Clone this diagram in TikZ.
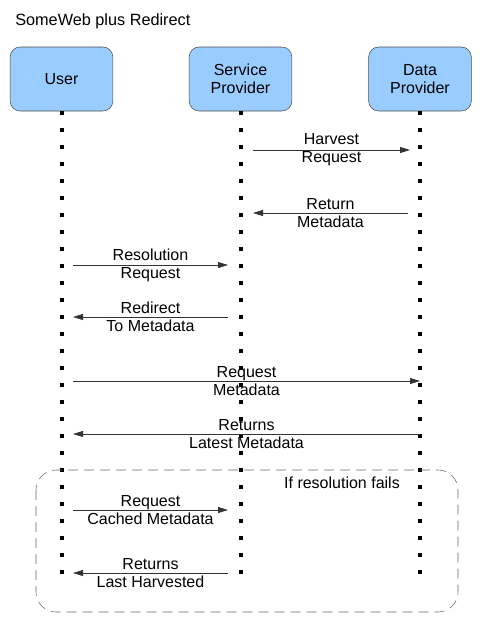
\documentclass[tikz,border=0pt]{standalone}
\usepackage{fontspec}
\setmainfont{Liberation Sans}
\usetikzlibrary{arrows.meta}
\definecolor{boxblue}{RGB}{153,204,255}

\begin{document}
\begin{tikzpicture}[x=0.75pt, y=-0.75pt,
    actor/.style = {draw=black!70, fill=boxblue, rounded corners=7.5pt,
      minimum width=77pt, minimum height=48pt, align=center,
      font=\fontsize{12}{13.5}\selectfont},
    life/.style = {line width=3pt, dash pattern=on 3pt off 9.75pt},
    msg/.style = {-{Triangle[length=7.5pt,width=4.5pt]}, draw=black!80, line width=0.6pt},
    lbl/.style = {align=center, inner sep=0pt, font=\fontsize{12}{13.5}\selectfont}]
    \useasboundingbox (0,0) rectangle (486,640);

    \node[anchor=west, inner sep=0pt, font=\fontsize{12.2}{13.5}\selectfont] (title) at (15,21) {SomeWeb plus Redirect};

    \node[actor] (user) at (61.5,79) {User};
    \node[actor] (sp) at (240.5,79) {Service\\Provider};
    \node[actor] (dp) at (420,79) {Data\\Provider};

    % lifelines
    \coordinate (userend) at (61.5,585);
    \coordinate (spend) at (240.5,585);
    \coordinate (dpend) at (420,585);
    \draw[life] (user.south) -- (userend);
    \draw[life] (sp.south) -- (spend);
    \draw[life] (dp.south) -- (dpend);

    % messages
    \coordinate (hr1) at (253,150);  \coordinate (hr2) at (410,150);
    \coordinate (rm1) at (408,213);  \coordinate (rm2) at (253,213);
    \coordinate (rr1) at (73,265);   \coordinate (rr2) at (228,265);
    \coordinate (rd1) at (228,317);  \coordinate (rd2) at (73,317);
    \coordinate (rq1) at (73,381);   \coordinate (rq2) at (420,381);
    \coordinate (rl1) at (420,434);  \coordinate (rl2) at (73,434);
    \coordinate (rc1) at (73,510);   \coordinate (rc2) at (228,510);
    \coordinate (rh1) at (228,573);  \coordinate (rh2) at (73,573);

    \draw[msg] (hr1) -- (hr2) node[lbl, midway] {Harvest\\Request};
    \draw[msg] (rm1) -- (rm2) node[lbl, midway] {Return\\Metadata};
    \draw[msg] (rr1) -- (rr2) node[lbl, midway] {Resolution\\Request};
    \draw[msg] (rd1) -- (rd2) node[lbl, midway] {Redirect\\To Metadata};
    \draw[msg] (rq1) -- (rq2) node[lbl, midway] {Request\\Metadata};
    \draw[msg] (rl1) -- (rl2) node[lbl, midway] {Returns\\Latest Metadata};
    \draw[msg] (rc1) -- (rc2) node[lbl, midway] {Request\\Cached Metadata};
    \draw[msg] (rh1) -- (rh2) node[lbl, midway] {Returns\\Last Harvested};

    % fallback frame
    \draw[draw=black!60, rounded corners=15pt, dash pattern=on 7.5pt off 4.5pt] (36,470) rectangle (458,612);
    \node[lbl] (fails) at (342,483) {If resolution fails};
\end{tikzpicture}
\end{document}
